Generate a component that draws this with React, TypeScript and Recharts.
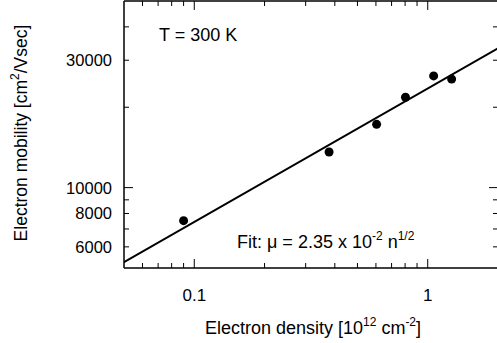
import React from 'react';
import { ScatterChart, Scatter, XAxis, YAxis, Customized } from 'recharts';

// Measured electron density [10^12 cm^-2] and mobility [cm^2/Vsec]
const densities = [0.09, 0.378, 0.604, 0.803, 1.06, 1.266];
const mobilities = [7520, 13600, 17260, 21800, 26200, 25500];

// Fit line endpoints (mu = 2.35e-2 n^1/2), read at the plot edges
const fitDensities = [0.05, 2];
const fitMobilities = [5255, 33234];

const xDomain = [0.05, 2];
const yDomain = [5000, 50000];
const xTicks = [0.06, 0.07, 0.08, 0.09, 0.1, 0.2, 0.3, 0.4, 0.5, 0.6, 0.7, 0.8, 0.9, 1, 2];
const xMajor = [0.1, 1];
const xLabels = ['0.1', '1'];
const yTicks = [6000, 7000, 8000, 9000, 10000, 20000, 30000, 40000];
const yMajor = [10000];
const yLabels = ['6000', '8000', '10000', '30000'];

const points = densities.map((n, i) => ({ n, mu: mobilities[i] }));
const fit = fitDensities.map((n, i) => ({ n, mu: fitMobilities[i] }));

const FONT = '"Liberation Sans", Arial, sans-serif';
const W = 500;
const H = 343;

const BottomTick = (props: any) => {
  const { x, y, payload } = props;
  const v = payload.value;
  const len = xMajor.includes(v) ? 9 : 5;
  const lbl = xLabels.find((l) => Number(l) === v);
  return (
    <g>
      <line x1={x} y1={y} x2={x} y2={y - len} stroke="#000" strokeWidth={1} />
      {lbl && (
        <text x={x} y={y + 33} textAnchor="middle" fontSize={17} fontFamily={FONT} fill="#000">
          {lbl}
        </text>
      )}
    </g>
  );
};

const TopTick = (props: any) => {
  const { x, y, payload } = props;
  const len = xMajor.includes(payload.value) ? 9 : 5;
  return <line x1={x} y1={y} x2={x} y2={y + len} stroke="#000" strokeWidth={1} />;
};

const LeftTick = (props: any) => {
  const { x, y, payload } = props;
  const v = payload.value;
  const len = yMajor.includes(v) ? 9 : 5;
  const lbl = yLabels.find((l) => Number(l) === v);
  return (
    <g>
      <line x1={x} y1={y} x2={x + len} y2={y} stroke="#000" strokeWidth={1} />
      {lbl && (
        <text x={x - 12} y={y + 6} textAnchor="end" fontSize={16.5} fontFamily={FONT} fill="#000">
          {lbl}
        </text>
      )}
    </g>
  );
};

const RightTick = (props: any) => {
  const { x, y, payload } = props;
  const len = yMajor.includes(payload.value) ? 9 : 5;
  return <line x1={x} y1={y} x2={x - len} y2={y} stroke="#000" strokeWidth={1} />;
};

const Annotations = () => (
  <g fontFamily={FONT} fill="#000">
    <text x={159} y={41} fontSize={18}>T = 300 K</text>
    <text x={237} y={248} fontSize={18}>
      Fit: μ = 2.35 x 10
      <tspan dy={-8} fontSize={12}>-2</tspan>
      <tspan dy={8}> n</tspan>
      <tspan dy={-8} fontSize={12}>1/2</tspan>
    </text>
    <text x={313} y={334} fontSize={18} textAnchor="middle">
      Electron density [10
      <tspan dy={-8} fontSize={12}>12</tspan>
      <tspan dy={8}> cm</tspan>
      <tspan dy={-8} fontSize={12}>-2</tspan>
      <tspan dy={8}>]</tspan>
    </text>
    <text x={27} y={133} fontSize={17.5} textAnchor="middle" transform="rotate(-90 27 133)">
      Electron mobility [cm
      <tspan dy={-8} fontSize={12}>2</tspan>
      <tspan dy={8}>/Vsec]</tspan>
    </text>
  </g>
);

const Dot = (props: any) => {
  const { cx, cy } = props;
  return <circle cx={cx} cy={cy} r={4.5} fill="#000" />;
};

const NoShape = () => <g />;

export default function App() {
  return (
    <div style={{ position: 'absolute', left: 0, top: 0, width: 497, height: H, overflow: 'hidden', background: '#fff' }}>
      <ScatterChart width={W} height={H} margin={{ top: 0, right: 0, bottom: 0, left: 0 }}>
        <XAxis
          xAxisId="b"
          orientation="bottom"
          type="number"
          dataKey="n"
          scale="log"
          domain={xDomain}
          allowDataOverflow
          ticks={xTicks}
          interval={0}
          height={75}
          tickSize={0}
          tickMargin={0}
          tickLine={false}
          tick={<BottomTick />}
          axisLine={{ stroke: '#000', strokeWidth: 1.5 }}
        />
        <XAxis
          xAxisId="t"
          orientation="top"
          type="number"
          dataKey="n"
          scale="log"
          domain={xDomain}
          allowDataOverflow
          ticks={xTicks}
          interval={0}
          height={1}
          tickSize={0}
          tickMargin={0}
          tickLine={false}
          tick={<TopTick />}
          axisLine={{ stroke: '#000', strokeWidth: 1.5 }}
        />
        <YAxis
          yAxisId="l"
          orientation="left"
          type="number"
          dataKey="mu"
          scale="log"
          domain={yDomain}
          allowDataOverflow
          ticks={yTicks}
          interval={0}
          width={124}
          tickSize={0}
          tickMargin={0}
          tickLine={false}
          tick={<LeftTick />}
          axisLine={{ stroke: '#000', strokeWidth: 1.5 }}
        />
        <YAxis
          yAxisId="r"
          orientation="right"
          type="number"
          dataKey="mu"
          scale="log"
          domain={yDomain}
          allowDataOverflow
          ticks={yTicks}
          interval={0}
          width={2}
          tickSize={0}
          tickMargin={0}
          tickLine={false}
          tick={<RightTick />}
          axisLine={{ stroke: '#000', strokeWidth: 1.5 }}
        />
        <Scatter
          xAxisId="b"
          yAxisId="l"
          data={fit}
          line={{ stroke: '#000', strokeWidth: 2 }}
          shape={<NoShape />}
          isAnimationActive={false}
        />
        <Scatter
          xAxisId="b"
          yAxisId="l"
          data={points}
          shape={<Dot />}
          isAnimationActive={false}
        />
        <Customized component={<Annotations />} />
      </ScatterChart>
    </div>
  );
}
